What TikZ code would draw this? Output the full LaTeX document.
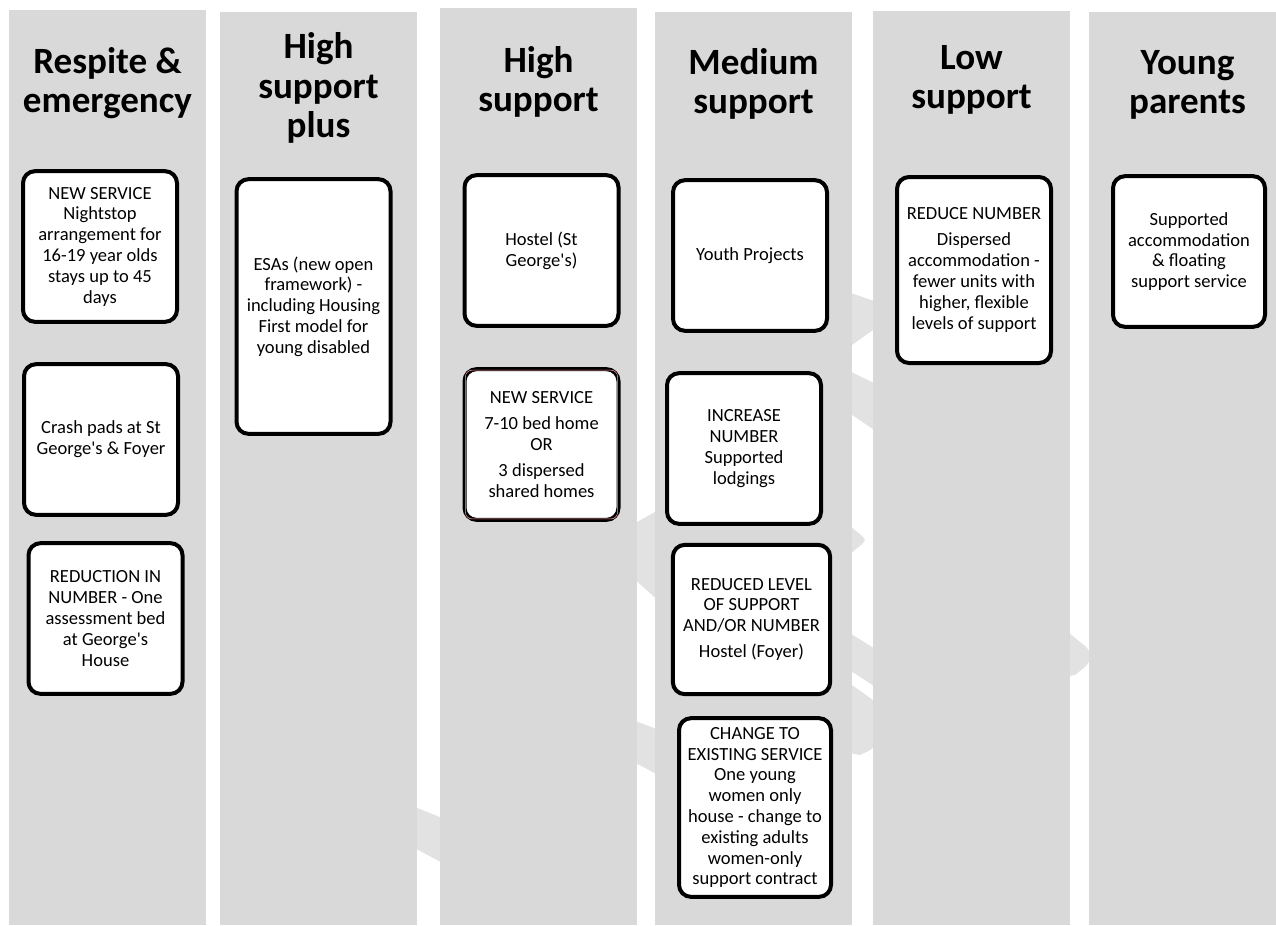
\documentclass[tikz,border=0pt]{standalone}
\usepackage{fontspec}
\setmainfont{Carlito}[Ligatures=TeXOff]
\definecolor{colgray}{HTML}{D9D9D9}
\definecolor{arrgray}{HTML}{E2E2E2}

\begin{document}
\begin{tikzpicture}[x=0.75pt,y=-0.75pt,
  head/.style={font=\bfseries\fontsize{27.8}{29.5}\selectfont,align=center,inner sep=0pt},
  card/.style={draw,fill=white,line width=3pt,rounded corners=9pt,align=center,inner sep=2pt,
    minimum width=115.5pt,minimum height=113pt,font=\fontsize{13.9}{15.6}\selectfont}]
\useasboundingbox (0,0) rectangle (1276,925);
% faint arrows behind the columns
\fill[arrgray] (405,803)--(452,822)--(452,868)--(405,843)--cycle;
\fill[arrgray] (630,526)--(662,508)--(662,604)--(630,575)--cycle;
\fill[arrgray] (630,719)--(662,731)--(662,777)--(630,760)--cycle;
\fill[arrgray] (845,291)--(880,303)--(880,325)--(845,350)--cycle;
\fill[arrgray] (845,369)--(880,386)--(880,434)--(845,410)--cycle;
\fill[arrgray] (845,522)--(861,535) .. controls (866,540) .. (861,545)--(845,558)--cycle;
\fill[arrgray] (845,630)--(880,652)--(880,690)--(845,667)--cycle;
\fill[arrgray] (845,680)--(880,705)--(880,735) .. controls (875,748) .. (860,755)--(845,752)--cycle;
\fill[arrgray] (1063,628)--(1085,646) .. controls (1092,652) and (1092,660) .. (1085,667)--(1075,675)--(1063,677)--cycle;
% columns
\fill[colgray] (9,10) rectangle (206,925);
\fill[colgray] (220,12) rectangle (417,925);
\fill[colgray] (440,8) rectangle (637,925);
\fill[colgray] (655,12) rectangle (852,925);
\fill[colgray] (873,11) rectangle (1070,925);
\fill[colgray] (1089,12) rectangle (1276,925);
% headings
\node[head] (resp) at (107.5,83) {Respite \&\\emergency};
\node[head] (hsplus) at (318.5,88) {High\\support\\plus};
\node[head] (hs) at (538.5,82) {High\\support};
\node[head] (ms) at (753.5,84) {Medium\\support};
\node[head] (ls) at (971.5,80) {Low\\support};
\node[head] (yp) at (1187.5,85) {Young\\parents};
% cards
\node[card] (resp1) at (100,246.5) {NEW SERVICE\\Nightstop\\arrangement for\\16-19 year olds\\stays up to 45\\days};
\node[card] (resp2) at (101,439.5) {Crash pads at St\\George's \& Foyer};
\node[card] (resp3) at (105.5,618.5) {REDUCTION IN\\NUMBER - One\\assessment bed\\at George's\\House};
\node[card,minimum height=191pt] (hsplus1) at (313.5,306.5) {ESAs (new open\\framework) -\\including Housing\\First model for\\young disabled};
\node[card] (hs1) at (541.5,250.5) {Hostel (St\\George's)};
\node[card] (hs2) at (541.5,444.5) {NEW SERVICE\\[4pt]7-10 bed home\\OR\\[4pt]3 dispersed\\shared homes};
\draw[red!40,line width=0.4pt,rounded corners=5pt] ([shift={(2.2pt,-2.2pt)}]hs2.north west) rectangle ([shift={(-2.2pt,2.2pt)}]hs2.south east);
\node[card] (ms1) at (750,255.5) {Youth Projects};
\node[card] (ms2) at (744,448.5) {INCREASE\\NUMBER\\Supported\\lodgings};
\node[card,minimum width=118pt,minimum height=112pt] (ms3) at (751.5,619.5) {REDUCED LEVEL\\OF SUPPORT\\AND/OR NUMBER\\[4pt]Hostel (Foyer)};
\node[card,minimum width=114pt,minimum height=134pt] (ms4) at (755,807.5) {CHANGE TO\\EXISTING SERVICE\\One young\\women only\\house - change to\\existing adults\\women-only\\support contract};
\node[card,minimum height=139.5pt] (ls1) at (974,270) {REDUCE NUMBER\\[4pt]Dispersed\\accommodation -\\fewer units with\\higher, flexible\\levels of support};
\node[card,minimum width=114pt] (yp1) at (1189,251.5) {Supported\\accommodation\\\& floating\\support service};
\end{tikzpicture}
\end{document}
